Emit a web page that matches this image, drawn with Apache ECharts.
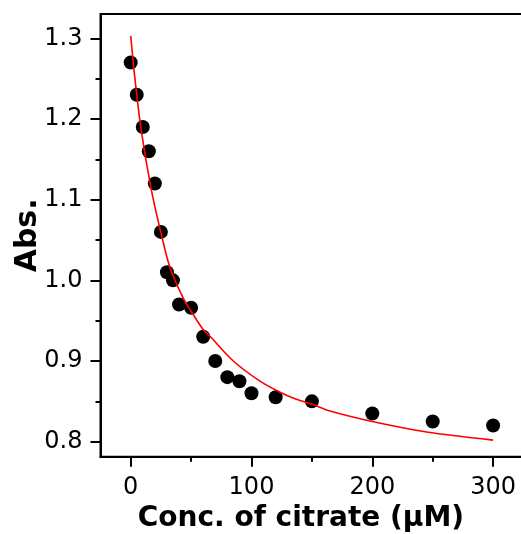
<!DOCTYPE html>
<html>
<head>
<meta charset="utf-8">
<script src="https://cdn.jsdelivr.net/npm/echarts@6/dist/echarts.min.js"></script>
<style>
html,body{margin:0;padding:0;background:#fff;}
#chart{width:521px;height:534px;}
</style>
</head>
<body>
<div id="chart"></div>
<script>
// Measured points
var concX = [0, 5, 10, 15, 20, 25, 30, 35, 40, 50, 60, 70, 80, 90, 100, 120, 150, 200, 250, 300];
var absY = [1.27, 1.23, 1.19, 1.16, 1.12, 1.06, 1.01, 1.00, 0.97, 0.966, 0.93, 0.90, 0.88, 0.875, 0.86, 0.855, 0.85, 0.835, 0.825, 0.82];
// Fitted curve
var fitX = [0, 3.5, 8.8, 17.4, 25.5, 32.5, 43.5, 52, 60, 66, 85, 107, 124, 135, 151, 165, 200, 245, 300];
var fitY = [1.303, 1.250, 1.185, 1.110, 1.056, 1.016, 0.978, 0.957, 0.939, 0.930, 0.900, 0.875, 0.861, 0.854, 0.846, 0.838, 0.825, 0.812, 0.802];
// Ticks
var xMajor = [0, 100, 200, 300];
var xMinor = [50, 150, 250];
var yMajor = [0.8, 0.9, 1.0, 1.1, 1.2, 1.3];
var yMinor = [0.85, 0.95, 1.05, 1.15, 1.25];
var xTitle = 'Conc. of citrate (μM)';
var yTitle = 'Abs.';

var FONT = 'DejaVu Sans';
var chart = echarts.init(document.getElementById('chart'));
function pairs(xs, ys) { return xs.map(function (x, i) { return [x, ys[i]]; }); }
var XMIN = -25, XMAX = 325, YMIN = 0.7814, YMAX = 1.3301;

function tickAxis(min, max, pos, vals, len) {
  return {
    type: 'value', min: min, max: max, position: pos,
    axisLine: { show: false, onZero: false },
    axisTick: { show: true, inside: false, length: len, customValues: vals, lineStyle: { color: '#000', width: 2 } },
    axisLabel: { show: false },
    splitLine: { show: false }
  };
}

chart.setOption({
  animation: false,
  backgroundColor: '#fff',
  grid: {
    left: 100.5, top: 14, width: 422.8, height: 442.7,
    show: true, borderColor: '#000', borderWidth: 2,
    backgroundColor: 'transparent', containLabel: false, outerBoundsMode: 'none'
  },
  xAxis: [{
    type: 'value', min: XMIN, max: XMAX, position: 'bottom',
    axisLine: { show: true, onZero: false, lineStyle: { color: '#000', width: 2 } },
    axisTick: { show: false },
    axisLabel: { show: true, customValues: xMajor, margin: 19, color: '#000', fontSize: 24, fontFamily: FONT,
      formatter: function (v) { return String(Math.round(v)); } },
    splitLine: { show: false },
    name: xTitle, nameLocation: 'middle', nameGap: 47,
    nameTextStyle: { color: '#000', fontSize: 28, fontWeight: 'bold', fontFamily: FONT, padding: [0, 22, 0, 0] }
  },
    tickAxis(XMIN, XMAX, 'bottom', xMajor, 10),
    tickAxis(XMIN, XMAX, 'bottom', xMinor, 5)
  ],
  yAxis: [{
    type: 'value', min: YMIN, max: YMAX, position: 'left',
    axisLine: { show: true, onZero: false, lineStyle: { color: '#000', width: 2 } },
    axisTick: { show: false },
    axisLabel: { show: true, customValues: yMajor, margin: 18, color: '#000', fontSize: 24, fontFamily: FONT,
      formatter: function (v) { return v.toFixed(1); } },
    splitLine: { show: false },
    name: yTitle, nameLocation: 'middle', nameGap: 57, nameRotate: 90, nameMoveOverlap: false,
    nameTextStyle: { color: '#000', fontSize: 30, fontWeight: 'bold', fontFamily: FONT }
  },
    tickAxis(YMIN, YMAX, 'left', yMajor, 10),
    tickAxis(YMIN, YMAX, 'left', yMinor, 5)
  ],
  series: [{
    type: 'line', xAxisIndex: 0, yAxisIndex: 0,
    data: pairs(fitX, fitY), smooth: 0.3, showSymbol: false, symbol: 'none',
    lineStyle: { color: '#ff0000', width: 1.6 }, z: 3
  }, {
    type: 'scatter', xAxisIndex: 0, yAxisIndex: 0,
    data: pairs(concX, absY), symbol: 'circle', symbolSize: 14,
    itemStyle: { color: '#000', opacity: 1 }, z: 2
  }]
});
</script>
</body>
</html>
